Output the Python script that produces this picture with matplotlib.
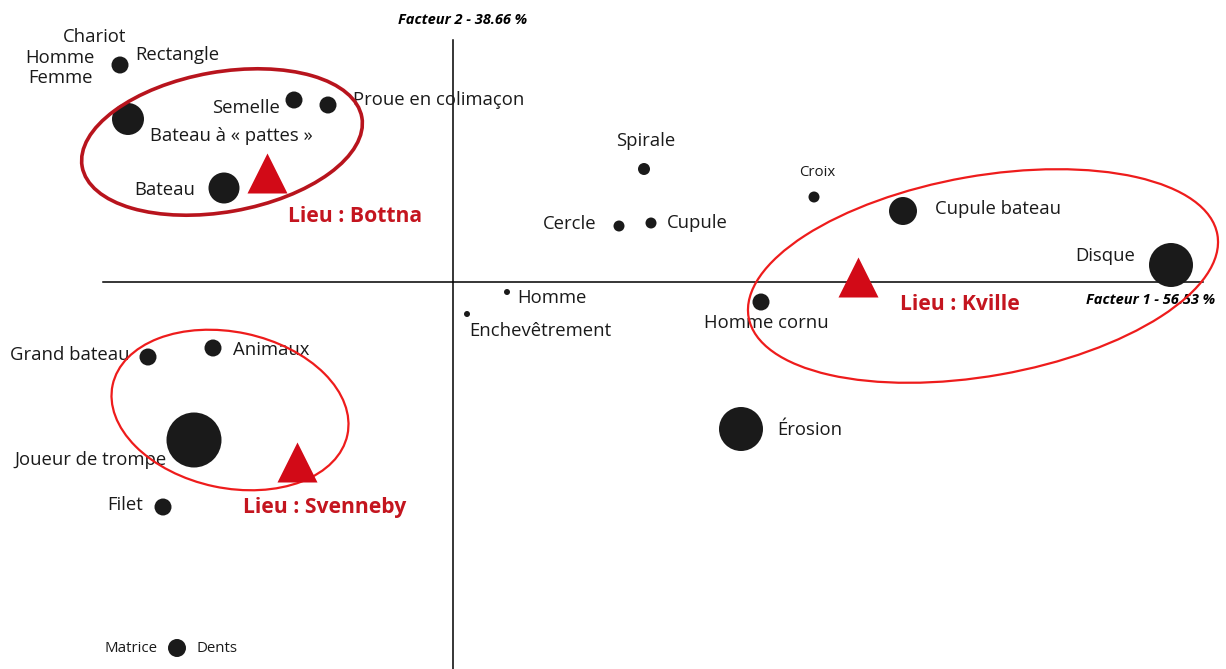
import matplotlib.pyplot as plt
from matplotlib.patches import Ellipse

plt.rcParams['font.family'] = ['Open Sans', 'DejaVu Sans']

# modalities: coordinates on factor 1 / factor 2 and weight (dot diameter, px)
motifs = ['Chariot', 'Semelle', 'Proue', 'Bateau à « pattes »', 'Bateau',
          'Spirale', 'Croix', 'Cercle', 'Cupule', 'Cupule bateau', 'Disque',
          'Homme cornu', 'Homme', 'Enchevêtrement', 'Grand bateau', 'Animaux',
          'Joueur de trompe', 'Filet', 'Érosion', 'Matrice']
f1 = [-3.33, -1.59, -1.25, -3.25, -2.29, 1.91, 3.61, 1.66, 1.98, 4.50, 7.18,
      3.08, 0.54, 0.14, -3.05, -2.40, -2.59, -2.90, 2.88, -2.76]
f2 = [2.17, 1.82, 1.77, 1.63, 0.94, 1.13, 0.85, 0.56, 0.59, 0.71, 0.17,
      -0.20, -0.10, -0.32, -0.75, -0.66, -1.58, -2.25, -1.47, -3.66]
poids = [17, 17, 17, 32, 31, 12, 11, 11, 11, 28, 44, 17, 6, 6, 17, 17, 55, 17, 44, 18]

# sites
lieux = ['Lieu : Bottna', 'Lieu : Kville', 'Lieu : Svenneby']
lieux_f1 = [-1.86, 4.05, -1.56]
lieux_f2 = [1.09, 0.05, -1.80]

# grouping ellipses: centre, width, height, angle
ell_x = [-2.31, 5.30, -2.23]
ell_y = [1.40, 0.06, -1.28]
ell_w = [2.84, 4.76, 2.40]
ell_h = [1.40, 2.00, 1.56]
ell_a = [10, 10, -12]

# labels: (text, index of point, dx, dy in px, ha, fontsize)
FS = 13.3
SM = 10.8
labels = [('Chariot', 0, -25, -28, 'center', FS),
          ('Homme', 0, -60, -7, 'center', FS),
          ('Femme', 0, -60, 13, 'center', FS),
          ('Rectangle', 0, 15, -10, 'left', FS),
          ('Semelle', 1, -14, 8, 'right', FS),
          ('Proue en colimaçon', 2, 25, -5, 'left', FS),
          ('Bateau à « pattes »', 3, 22, 17, 'left', FS),
          ('Bateau', 4, -29, 2, 'right', FS),
          ('Spirale', 5, 2, -28, 'center', FS),
          ('Croix', 6, 3, -25, 'center', SM),
          ('Cercle', 7, -22, -2, 'right', FS),
          ('Cupule', 8, 16, 0, 'left', FS),
          ('Cupule bateau', 9, 32, -2, 'left', FS),
          ('Disque', 10, -36, -9, 'right', FS),
          ('Homme cornu', 11, 5, 21, 'center', FS),
          ('Homme', 12, 10, 6, 'left', FS),
          ('Enchevêtrement', 13, 2, 17, 'left', FS),
          ('Grand bateau', 14, -18, -2, 'right', FS),
          ('Animaux', 15, 20, 2, 'left', FS),
          ('Joueur de trompe', 16, -27, 20, 'right', FS),
          ('Filet', 17, -20, -2, 'right', FS),
          ('Érosion', 18, 36, 1, 'left', FS),
          ('Matrice', 19, -20, 1, 'right', SM),
          ('Dents', 19, 20, 1, 'left', SM)]
lieu_off = [(21, 44), (42, 27), (-54, 45)]

fig = plt.figure(figsize=(12.26, 6.69), dpi=100)
ax = fig.add_axes([0, 0, 1, 1])
ax.set_xlim(-4.53, 7.73)
ax.set_ylim(-3.87, 2.82)
ax.axis('off')

# factor axes
ax.plot([-3.50, 7.50], [0, 0], color='black', lw=1.1, zorder=1)
ax.plot([0, 0], [-3.87, 2.42], color='black', lw=1.1, zorder=1)
ax.text(0.10, 2.62, 'Facteur 2 - 38.66 %', ha='center', va='center',
        fontsize=10.5, fontstyle='italic', fontweight='bold')
ax.text(7.62, -0.18, 'Facteur 1 - 56.53 %', ha='right', va='center',
        fontsize=10.5, fontstyle='italic', fontweight='bold')

ax.scatter(f1, f2, s=[(d * 0.72) ** 2 for d in poids], color='#1a1a1a',
           linewidths=0, zorder=3)

for txt, i, dx, dy, ha, fs in labels:
    ax.annotate(txt, (f1[i], f2[i]), xytext=(dx * 0.72, -dy * 0.72),
                textcoords='offset points', ha=ha, va='center',
                fontsize=fs, color='#1a1a1a', zorder=4)

ax.scatter(lieux_f1, lieux_f2, marker='^', s=(40 * 0.72) ** 2,
           color='#d20a17', linewidths=0, zorder=6)
for name, x, y, (dx, dy) in zip(lieux, lieux_f1, lieux_f2, lieu_off):
    ax.annotate(name, (x, y), xytext=(dx * 0.72, -dy * 0.72),
                textcoords='offset points', ha='left', va='center',
                fontsize=15.2, fontweight='bold', color='#c4151f', zorder=6)

ell_col = ['#b8141d', '#ee1c1c', '#ee1c1c']
ell_lw = [2.6, 1.6, 1.6]
for x, y, w, h, a, c, lw in zip(ell_x, ell_y, ell_w, ell_h, ell_a, ell_col, ell_lw):
    ax.add_patch(Ellipse((x, y), w, h, angle=a, fill=False,
                         edgecolor=c, lw=lw, zorder=5))

fig.savefig('out.png', dpi=100)
